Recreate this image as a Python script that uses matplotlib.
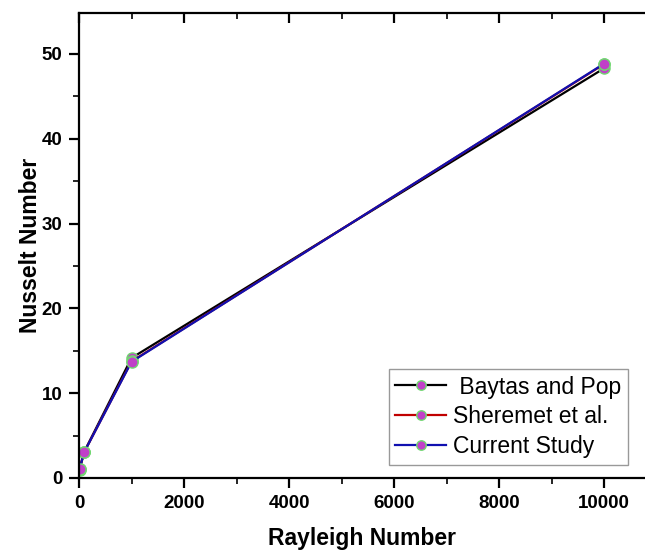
import numpy as np
import matplotlib.pyplot as plt
from matplotlib.ticker import MultipleLocator

# Rayleigh numbers and average Nusselt numbers
rayleigh = [10, 100, 1000, 10000]
nu_baytas = [1.00, 3.10, 14.15, 48.30]
nu_sheremet = [1.07, 3.07, 13.75, 48.80]
nu_current = [1.07, 3.07, 13.70, 48.85]

series = [
    ("Baytas and Pop", nu_baytas, "black"),
    ("Sheremet et al.", nu_sheremet, "#c00000"),
    ("Current Study", nu_current, "#1010b0"),
]
labels = [" Baytas and Pop", "Sheremet et al.", "Current Study"]

plt.rcParams['font.family'] = ['Liberation Sans', 'DejaVu Sans']

fig = plt.figure(figsize=(6.45, 5.51), dpi=100)
ax = fig.add_axes([0.1225, 0.1325, 0.8775, 0.8435])

for (name, vals, col), lab in zip(series, labels):
    ax.plot(rayleigh, vals, color=col, lw=1.6, marker='o', markersize=8,
            markerfacecolor='#c040c8', markeredgecolor='#70d870',
            markeredgewidth=1.0, label=lab)

ax.set_xlim(0, 10780)
ax.set_ylim(0, 54.8)
ax.xaxis.set_major_locator(MultipleLocator(2000))
ax.xaxis.set_minor_locator(MultipleLocator(1000))
ax.yaxis.set_major_locator(MultipleLocator(10))
ax.yaxis.set_minor_locator(MultipleLocator(5))

ax.spines['right'].set_visible(False)
for s in ['left', 'bottom', 'top']:
    ax.spines[s].set_linewidth(1.6)

ax.tick_params(which='major', direction='out', length=7, width=1.6,
               labelsize=13.5, pad=5)
ax.tick_params(which='minor', direction='out', length=4, width=1.2)
ax.tick_params(axis='x', which='both', top=True)
# top ticks point inward
for t in ax.xaxis.get_major_ticks() + ax.xaxis.get_minor_ticks():
    t.tick2line.set_marker(3)
for lbl in ax.get_xticklabels() + ax.get_yticklabels():
    lbl.set_fontweight('bold')

ax.set_xlabel('Rayleigh Number', fontsize=16.5, fontweight='bold', labelpad=11)
ax.set_ylabel('Nusselt Number', fontsize=16.5, fontweight='bold', labelpad=0)

leg = ax.legend(loc='lower right', bbox_to_anchor=(0.99, 0.003), fontsize=16.5,
                fancybox=False, edgecolor='#999999', framealpha=1,
                handlelength=2.2, handletextpad=0.3, borderpad=0.3,
                labelspacing=0.3, markerscale=0.85)
leg.get_frame().set_linewidth(1.0)

fig.savefig('out.png', dpi=100)
